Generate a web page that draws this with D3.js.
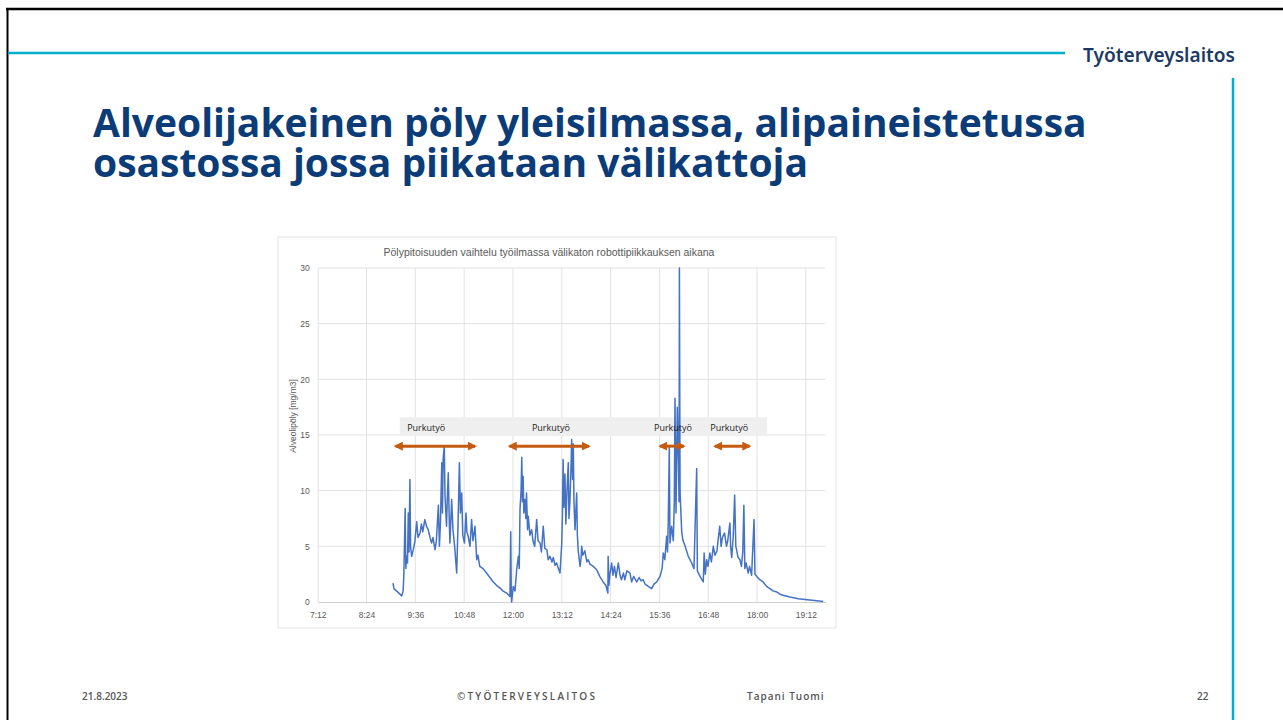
<!DOCTYPE html>
<html>
<head>
<meta charset="utf-8">
<script src="https://cdn.jsdelivr.net/npm/d3@7"></script>
<style>
  html, body { margin: 0; padding: 0; background: #fff; }
  svg { display: block; }
</style>
</head>
<body>
<svg width="1283" height="720"></svg>
<script>
// slide texts
var slideTitle = ["Alveolijakeinen pöly yleisilmassa, alipaineistetussa",
                  "osastossa jossa piikataan välikattoja"];
var brand = "Työterveyslaitos";
var footer = ["21.8.2023", "©TYÖTERVEYSLAITOS", "Tapani Tuomi", "22"];

// chart texts
var chartTitle = "Pölypitoisuuden vaihtelu työilmassa välikaton robottipiikkauksen aikana";
var yTitle = "Alveolipöly [mg/m3]";
var yTicks = [0, 5, 10, 15, 20, 25, 30];
var xTicks = [432, 504, 576, 648, 720, 792, 864, 936, 1008, 1080, 1152]; // minutes, 7:12 .. 19:12

var timeMin = [543, 544.5, 549, 556, 558, 559, 561, 562, 563, 564.5, 565.6, 566.7, 568, 569, 570.6, 573, 575.5, 578, 580, 583,
  585, 587, 590, 592.5, 595, 597.6, 600, 602, 605, 607, 610, 611.5, 613, 615, 616, 617, 618.7, 619.8, 622, 623,
  624.6, 626, 627, 629.6, 631.5, 634, 637, 639, 641, 642.5, 644.4, 646, 648.5, 650.7, 652, 654, 656.6, 659, 661, 664,
  666.5, 668.4, 671, 676, 681, 686, 691, 695.7, 701, 705, 710.8, 715.6, 716.7, 717.5, 718, 720.5, 723, 725.5, 728, 729.3,
  730.4, 732, 733, 734, 735, 736, 737.7, 739, 740, 741.5, 742.6, 745, 747.6, 749.5, 752, 755, 757, 760, 762, 764.7,
  767, 770, 772, 774.6, 777.5, 779.5, 782, 784.5, 787, 789.4, 792, 793, 794, 795, 796.7, 798, 799.7, 801.6, 802.6, 804,
  805.6, 806.6, 808, 809, 810, 811.5, 814, 815, 816.4, 819, 820.5, 821.4, 823, 826, 829, 831, 833.6, 838.5, 843.5, 848,
  853, 857, 860, 860.4, 861.6, 863, 865.6, 867.4, 869.7, 872, 875.4, 878, 880, 883, 885, 888, 892.6, 895, 898, 902.5,
  906, 909, 912, 915, 919.6, 924.6, 928, 932, 937, 940, 941.7, 944, 946.7, 948, 949, 950.6, 951.6, 954, 956.5, 958,
  959, 960.5, 962.4, 964, 965, 965.5, 966.5, 969, 971, 974, 978.6, 983.6, 987, 991, 992, 996, 1000.7, 1002, 1003.7, 1005.7,
  1007.6, 1010.5, 1012.7, 1015.5, 1018, 1021, 1022.4, 1025, 1027, 1029, 1032, 1035, 1036.8, 1040, 1041, 1042.7, 1045, 1047, 1048.7, 1049.8,
  1052, 1054.8, 1057, 1059, 1060.6, 1062, 1064, 1067, 1069, 1072, 1075.6, 1077, 1079.6, 1084, 1089, 1094, 1099, 1103.6, 1109, 1114,
  1118.5, 1128.5, 1140.8, 1158, 1177.7];
var dust = [1.7, 1.2, 0.95, 0.55, 1.0, 2.3, 8.4, 3.0, 4.1, 3.5, 8.0, 4.5, 11.0, 5.0, 4.1, 4.7, 5.5, 7.2, 5.8, 6.2,
  7.0, 6.3, 7.4, 6.8, 6.5, 5.8, 5.3, 5.8, 4.7, 5.5, 8.7, 5.0, 7.0, 12.5, 8.0, 12.8, 14.0, 9.5, 6.8, 9.0,
  11.6, 7.5, 5.3, 9.2, 6.5, 5.0, 2.6, 7.0, 12.5, 8.0, 9.8, 6.0, 5.3, 8.0, 6.3, 5.9, 5.0, 7.4, 5.5, 6.8,
  3.8, 4.2, 3.2, 3.0, 2.6, 2.2, 1.8, 1.5, 1.25, 1.0, 0.8, 0.5, 6.3, 1.0, 0.0, 1.4, 1.0, 2.9, 4.1, 3.0,
  8.3, 10.0, 13.0, 9.0, 11.3, 8.0, 9.2, 7.5, 9.8, 6.5, 7.7, 6.0, 6.5, 5.5, 5.0, 7.4, 5.5, 5.3, 4.5, 6.8,
  4.8, 4.7, 3.8, 4.1, 3.6, 4.0, 3.3, 3.5, 3.0, 2.6, 5.3, 8.0, 12.8, 8.5, 11.5, 7.0, 10.0, 12.5, 7.5, 9.0,
  12.0, 14.6, 11.0, 14.2, 9.0, 6.5, 9.8, 6.0, 4.5, 3.2, 4.0, 5.0, 4.2, 4.6, 3.6, 3.8, 3.4, 3.2, 2.9, 2.3,
  1.8, 1.5, 0.8, 4.1, 1.5, 2.5, 3.5, 2.4, 3.2, 2.2, 3.5, 2.4, 2.0, 2.6, 2.0, 2.8, 2.6, 1.8, 2.3, 1.8,
  2.2, 1.9, 2.0, 1.6, 1.4, 1.2, 1.6, 1.8, 2.3, 3.0, 4.4, 3.8, 5.9, 4.5, 7.0, 14.0, 5.3, 6.8, 5.5, 9.0,
  18.3, 8.0, 17.5, 12.8, 9.0, 30, 9.8, 6.2, 5.5, 5.0, 4.1, 3.5, 3.0, 12.0, 2.8, 2.3, 1.8, 4.4, 2.5, 3.8,
  3.2, 4.4, 3.6, 5.0, 4.2, 4.6, 5.5, 6.8, 5.0, 5.8, 6.2, 5.0, 5.5, 7.1, 5.0, 4.0, 6.0, 9.6, 5.0, 4.7,
  4.0, 3.8, 3.2, 4.5, 8.7, 3.0, 3.5, 2.6, 3.2, 2.4, 7.4, 2.5, 2.3, 2.0, 1.8, 1.4, 1.2, 1.0, 0.9, 0.7,
  0.6, 0.45, 0.3, 0.18, 0.05];

// "Purkutyö" (demolition) periods, minutes
var workStart = [544, 712, 934, 1015];
var workEnd   = [667, 835, 975, 1072];
var workLabelAt = [564, 748, 928, 1011];
var workLabel = "Purkutyö";
var bandFrom = 553, bandTo = 1095, bandLevel = [14.9, 16.6];

var svg = d3.select("svg");
var cyan = "#00aecb", navy = "#0b3c78";

// ---- slide frame
svg.append("line").attr("x1", 6).attr("x2", 1283).attr("y1", 9).attr("y2", 9)
    .attr("stroke", "#000").attr("stroke-width", 2.5);
svg.append("line").attr("x1", 7.5).attr("x2", 7.5).attr("y1", 8).attr("y2", 720)
    .attr("stroke", "#000").attr("stroke-width", 2);
svg.append("line").attr("x1", 8).attr("x2", 1065).attr("y1", 53).attr("y2", 53)
    .attr("stroke", cyan).attr("stroke-width", 2.5);
svg.append("line").attr("x1", 1233).attr("x2", 1233).attr("y1", 78).attr("y2", 720)
    .attr("stroke", cyan).attr("stroke-width", 2.5);
svg.append("text").attr("x", 1083).attr("y", 62)
    .attr("font-family", "Noto Sans").attr("font-weight", 600).attr("font-size", 20)
    .attr("fill", "#1d3a63").attr("textLength", 152).attr("lengthAdjust", "spacingAndGlyphs")
    .text(brand);

var title = svg.append("g");
title.selectAll("text").data(slideTitle).enter().append("text")
    .attr("x", 93).attr("y", function(d, i) { return 137 + i * 40; })
    .attr("font-family", "Open Sans").attr("font-weight", 700).attr("font-size", 40)
    .attr("fill", navy).text(function(d) { return d; });
// fit first line to the reference width
var w0 = title.select("text").node().getComputedTextLength();
title.selectAll("text").attr("font-size", 40 * 994 / w0);

var footX = [82, 457, 747, 1197];
svg.selectAll(".foot").data(footer).enter().append("text")
    .attr("class", "foot")
    .attr("x", function(d, i) { return footX[i]; }).attr("y", 700)
    .attr("font-family", "Open Sans").attr("font-weight", 600).attr("font-size", 10)
    .attr("letter-spacing", function(d, i) { return i == 1 ? 2.2 : i == 2 ? 1 : 0; })
    .attr("fill", "#555").text(function(d) { return d; });

// ---- embedded chart
svg.append("rect").attr("x", 278).attr("y", 237).attr("width", 558).attr("height", 391)
    .attr("fill", "#fff").attr("stroke", "#e3e3e3");

var x = d3.scaleLinear().domain([432, 1181]).range([317.7, 825.5]);
var y = d3.scaleLinear().domain([0, 30]).range([602, 268]);
var fmt = function(m) { return Math.floor(m / 60) + ":" + d3.format("02")(m % 60); };

svg.append("text").attr("x", 549).attr("y", 256).attr("text-anchor", "middle")
    .attr("font-family", "Liberation Sans").attr("font-size", 10.5).attr("fill", "#595959")
    .text(chartTitle);

// gridlines
svg.append("g").selectAll("line").data(yTicks.slice(1)).enter().append("line")
    .attr("x1", x(432)).attr("x2", x(1181))
    .attr("y1", function(d) { return y(d); }).attr("y2", function(d) { return y(d); })
    .attr("stroke", "#e2e2e2");
svg.append("g").selectAll("line").data(xTicks.slice(1)).enter().append("line")
    .attr("x1", function(d) { return x(d); }).attr("x2", function(d) { return x(d); })
    .attr("y1", y(30)).attr("y2", y(0))
    .attr("stroke", "#e2e2e2");

var xAxis = svg.append("g").attr("transform", "translate(0," + y(0) + ")")
    .call(d3.axisBottom(x).tickValues(xTicks).tickFormat(fmt).tickSize(0).tickPadding(10));
xAxis.select(".domain").attr("stroke", "#d0d0d0");
var yAxis = svg.append("g").attr("transform", "translate(" + x(432) + ",0)")
    .call(d3.axisLeft(y).tickValues(yTicks).tickSize(0).tickPadding(8));
yAxis.select(".domain").attr("stroke", "#e2e2e2");
svg.selectAll(".tick text").attr("font-family", "Liberation Sans").attr("font-size", 8.5).attr("fill", "#595959");

svg.append("text")
    .attr("transform", "translate(296,416) rotate(-90)")
    .attr("text-anchor", "middle")
    .attr("font-family", "Liberation Sans").attr("font-size", 8.5).attr("fill", "#595959")
    .text(yTitle);

// annotation band and arrows
svg.append("rect").attr("x", x(bandFrom)).attr("width", x(bandTo) - x(bandFrom))
    .attr("y", y(bandLevel[1])).attr("height", y(bandLevel[0]) - y(bandLevel[1]))
    .attr("fill", "#f0efef");

var pts = timeMin.map(function(t, i) { return [t, dust[i]]; });
svg.append("path").datum(pts)
    .attr("fill", "none").attr("stroke", "#4472c4").attr("stroke-width", 1.5)
    .attr("stroke-linejoin", "round")
    .attr("d", d3.line().x(function(d) { return x(d[0]); }).y(function(d) { return y(Math.min(d[1], 30)); }));

svg.selectAll(".wl").data(workLabelAt).enter().append("text").attr("class", "wl")
    .attr("x", function(d) { return x(d); }).attr("y", y(15.35))
    .attr("font-family", "Open Sans").attr("font-size", 9).attr("fill", "#222")
    .text(workLabel);

var orange = "#c55a11";
svg.append("defs").selectAll("marker").data(["s", "e"]).enter().append("marker")
    .attr("id", function(d) { return "ah" + d; })
    .attr("viewBox", "0 -5 10 10").attr("refX", 8).attr("refY", 0)
    .attr("markerWidth", 3).attr("markerHeight", 3)
    .attr("orient", function(d) { return d == "s" ? "auto-start-reverse" : "auto"; })
  .append("path").attr("d", "M0,-5L10,0L0,5Z").attr("fill", orange);

svg.selectAll(".arr").data(workStart).enter().append("line").attr("class", "arr")
    .attr("x1", function(d) { return x(d) + 2; })
    .attr("x2", function(d, i) { return x(workEnd[i]) - 2; })
    .attr("y1", y(14.0)).attr("y2", y(14.0))
    .attr("stroke", orange).attr("stroke-width", 3)
    .attr("marker-start", "url(#ahs)").attr("marker-end", "url(#ahe)");
</script>
</body>
</html>
